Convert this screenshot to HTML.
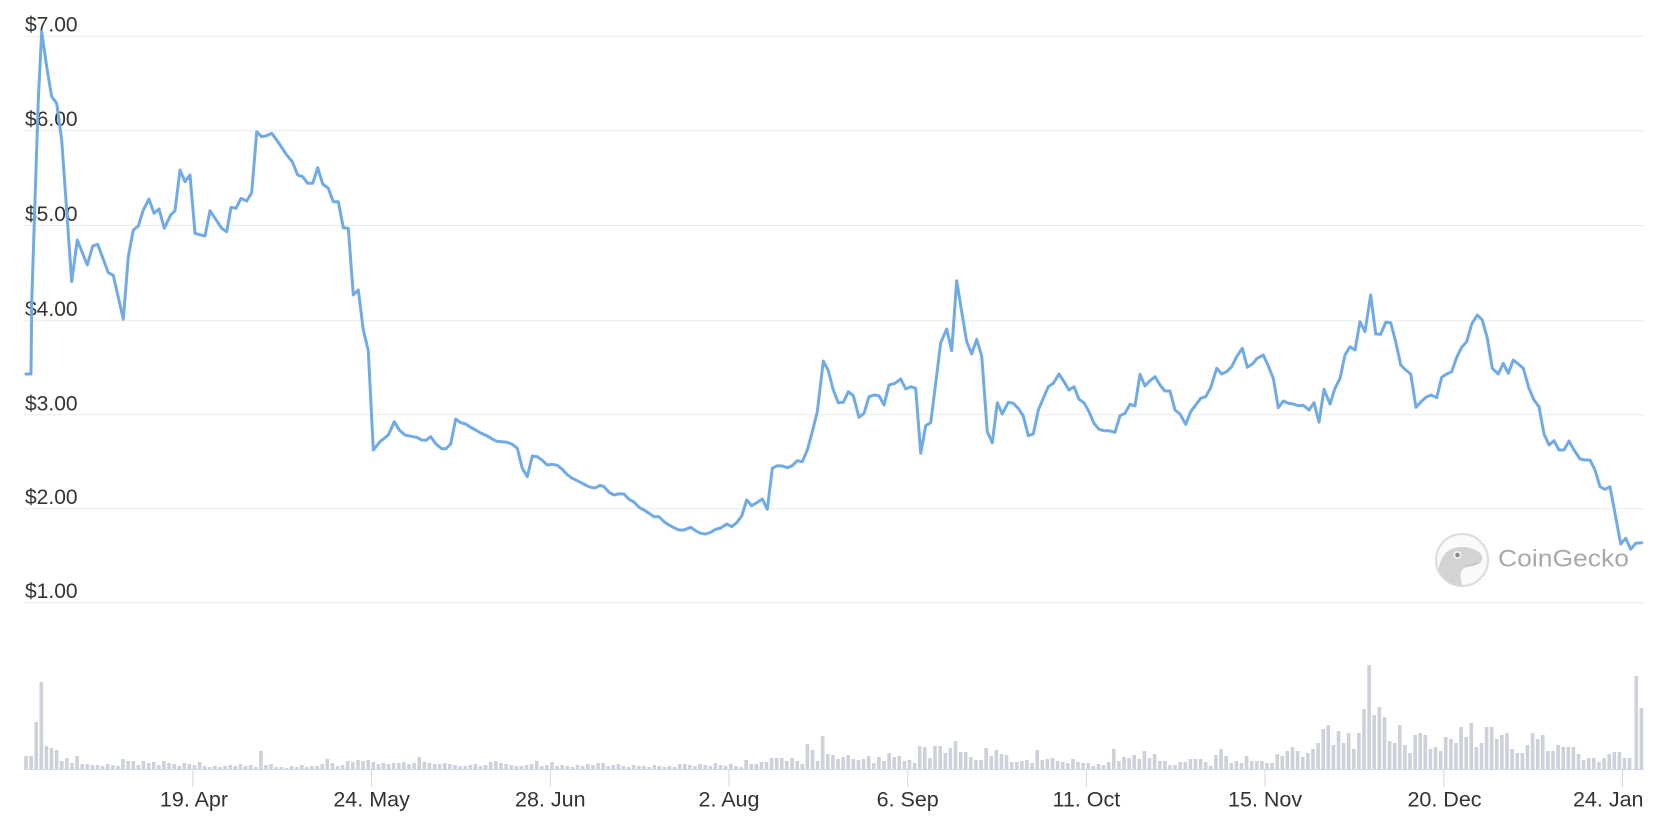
<!DOCTYPE html>
<html><head><meta charset="utf-8"><style>
html,body{margin:0;padding:0;background:#fff;}
svg{display:block;}
text{font-family:"Liberation Sans",Arial,sans-serif;}
</style></head><body>
<svg width="1671" height="834" viewBox="0 0 1671 834" xmlns="http://www.w3.org/2000/svg">
<rect width="1671" height="834" fill="#fff"/>
<g stroke="#ececec" stroke-width="1">
<line x1="24" y1="36.3" x2="1644" y2="36.3"/>
<line x1="24" y1="130.8" x2="1644" y2="130.8"/>
<line x1="24" y1="225.5" x2="1644" y2="225.5"/>
<line x1="24" y1="320.7" x2="1644" y2="320.7"/>
<line x1="24" y1="414.8" x2="1644" y2="414.8"/>
<line x1="24" y1="508.7" x2="1644" y2="508.7"/>
<line x1="24" y1="602.7" x2="1644" y2="602.7"/>
</g>
<g font-size="21" fill="#333">
<text x="25" y="31.5">$7.00</text>
<text x="25" y="126.2">$6.00</text>
<text x="25" y="221">$5.00</text>
<text x="25" y="316.2">$4.00</text>
<text x="25" y="410.3">$3.00</text>
<text x="25" y="504.2">$2.00</text>
<text x="25" y="598.2">$1.00</text>
</g>
<defs><clipPath id="cl"><circle cx="1462" cy="560" r="25.5"/></clipPath></defs>
<circle cx="1462" cy="560" r="26" fill="#fafafa" stroke="#dedede" stroke-width="2.2"/>
<g clip-path="url(#cl)">
<path d="M1436,590 C1436,575 1440,556 1448,551 C1456,545 1472,546 1480,553 C1484,557 1483,563 1476,565 C1470,567 1465,566 1462,570 C1459,575 1461,582 1464,590 Z" fill="#d3d3d3"/>
</g>
<circle cx="1457.5" cy="555" r="4" fill="#f4f4f4"/>
<circle cx="1457.5" cy="555" r="2.3" fill="#8c8c8c"/>
<path d="M1465,566 Q1472,566 1478,563" stroke="#bdbdbd" stroke-width="1.2" fill="none"/>
<text x="1498" y="566.7" font-size="24" fill="#a9a9a9" textLength="131" lengthAdjust="spacingAndGlyphs">CoinGecko</text>
<path fill="#cdd1d9" d="M24.2 769v-13h3.6v13zM29.3 769v-13h3.6v13zM34.4 769v-47h3.6v47zM39.5 769v-87h3.6v87zM44.6 769v-23h3.6v23zM49.7 769v-21h3.6v21zM54.8 769v-19h3.6v19zM59.9 769v-8h3.6v8zM65.1 769v-11h3.6v11zM70.2 769v-6h3.6v6zM75.3 769v-13h3.6v13zM80.4 769v-5h3.6v5zM85.5 769v-5h3.6v5zM90.6 769v-4h3.6v4zM95.7 769v-4h3.6v4zM100.8 769v-3h3.6v3zM105.9 769v-5h3.6v5zM111 769v-4h3.6v4zM116.1 769v-3h3.6v3zM121.2 769v-10h3.6v10zM126.3 769v-8h3.6v8zM131.4 769v-8h3.6v8zM136.6 769v-4h3.6v4zM141.7 769v-8h3.6v8zM146.8 769v-6h3.6v6zM151.9 769v-7h3.6v7zM157 769v-4h3.6v4zM162.1 769v-8h3.6v8zM167.2 769v-6h3.6v6zM172.3 769v-5h3.6v5zM177.4 769v-3h3.6v3zM182.5 769v-6h3.6v6zM187.6 769v-5h3.6v5zM192.7 769v-4h3.6v4zM197.8 769v-7h3.6v7zM202.9 769v-3h3.6v3zM208.1 769v-2h3.6v2zM213.2 769v-3h3.6v3zM218.3 769v-2h3.6v2zM223.4 769v-3h3.6v3zM228.5 769v-4h3.6v4zM233.6 769v-3h3.6v3zM238.7 769v-5h3.6v5zM243.8 769v-3h3.6v3zM248.9 769v-4h3.6v4zM254 769v-2h3.6v2zM259.1 769v-18h3.6v18zM264.2 769v-4h3.6v4zM269.3 769v-5h3.6v5zM274.4 769v-2h3.6v2zM279.6 769v-2h3.6v2zM284.7 769v-1h3.6v1zM289.8 769v-3h3.6v3zM294.9 769v-2h3.6v2zM300 769v-4h3.6v4zM305.1 769v-2h3.6v2zM310.2 769v-3h3.6v3zM315.3 769v-3h3.6v3zM320.4 769v-5h3.6v5zM325.5 769v-10h3.6v10zM330.6 769v-6h3.6v6zM335.7 769v-3h3.6v3zM340.8 769v-4h3.6v4zM345.9 769v-8h3.6v8zM351 769v-7h3.6v7zM356.2 769v-9h3.6v9zM361.3 769v-8h3.6v8zM366.4 769v-9h3.6v9zM371.5 769v-7h3.6v7zM376.6 769v-5h3.6v5zM381.7 769v-6h3.6v6zM386.8 769v-5h3.6v5zM391.9 769v-6h3.6v6zM397 769v-6h3.6v6zM402.1 769v-7h3.6v7zM407.2 769v-5h3.6v5zM412.3 769v-6h3.6v6zM417.4 769v-12h3.6v12zM422.5 769v-7h3.6v7zM427.7 769v-6h3.6v6zM432.8 769v-5h3.6v5zM437.9 769v-5h3.6v5zM443 769v-6h3.6v6zM448.1 769v-5h3.6v5zM453.2 769v-4h3.6v4zM458.3 769v-3h3.6v3zM463.4 769v-3h3.6v3zM468.5 769v-4h3.6v4zM473.6 769v-5h3.6v5zM478.7 769v-3h3.6v3zM483.8 769v-4h3.6v4zM488.9 769v-7h3.6v7zM494 769v-8h3.6v8zM499.2 769v-6h3.6v6zM504.3 769v-5h3.6v5zM509.4 769v-4h3.6v4zM514.5 769v-3h3.6v3zM519.6 769v-3h3.6v3zM524.7 769v-4h3.6v4zM529.8 769v-5h3.6v5zM534.9 769v-8h3.6v8zM540 769v-3h3.6v3zM545.1 769v-4h3.6v4zM550.2 769v-7h3.6v7zM555.3 769v-3h3.6v3zM560.4 769v-4h3.6v4zM565.5 769v-3h3.6v3zM570.7 769v-2h3.6v2zM575.8 769v-4h3.6v4zM580.9 769v-3h3.6v3zM586 769v-5h3.6v5zM591.1 769v-4h3.6v4zM596.2 769v-6h3.6v6zM601.3 769v-6h3.6v6zM606.4 769v-3h3.6v3zM611.5 769v-4h3.6v4zM616.6 769v-5h3.6v5zM621.7 769v-3h3.6v3zM626.8 769v-2h3.6v2zM631.9 769v-4h3.6v4zM637 769v-3h3.6v3zM642.1 769v-3h3.6v3zM647.3 769v-2h3.6v2zM652.4 769v-4h3.6v4zM657.5 769v-3h3.6v3zM662.6 769v-2h3.6v2zM667.7 769v-3h3.6v3zM672.8 769v-2h3.6v2zM677.9 769v-5h3.6v5zM683 769v-5h3.6v5zM688.1 769v-4h3.6v4zM693.2 769v-3h3.6v3zM698.3 769v-5h3.6v5zM703.4 769v-4h3.6v4zM708.5 769v-3h3.6v3zM713.6 769v-6h3.6v6zM718.8 769v-4h3.6v4zM723.9 769v-3h3.6v3zM729 769v-5h3.6v5zM734.1 769v-3h3.6v3zM739.2 769v-2h3.6v2zM744.3 769v-9h3.6v9zM749.4 769v-5h3.6v5zM754.5 769v-5h3.6v5zM759.6 769v-7h3.6v7zM764.7 769v-7h3.6v7zM769.8 769v-11h3.6v11zM774.9 769v-11h3.6v11zM780 769v-11h3.6v11zM785.1 769v-8h3.6v8zM790.3 769v-11h3.6v11zM795.4 769v-8h3.6v8zM800.5 769v-5h3.6v5zM805.6 769v-25h3.6v25zM810.7 769v-19h3.6v19zM815.8 769v-8h3.6v8zM820.9 769v-33h3.6v33zM826 769v-15h3.6v15zM831.1 769v-14h3.6v14zM836.2 769v-10h3.6v10zM841.3 769v-12h3.6v12zM846.4 769v-14h3.6v14zM851.5 769v-10h3.6v10zM856.6 769v-9h3.6v9zM861.7 769v-10h3.6v10zM866.9 769v-13h3.6v13zM872 769v-6h3.6v6zM877.1 769v-12h3.6v12zM882.2 769v-8h3.6v8zM887.3 769v-16h3.6v16zM892.4 769v-12h3.6v12zM897.5 769v-13h3.6v13zM902.6 769v-8h3.6v8zM907.7 769v-9h3.6v9zM912.8 769v-6h3.6v6zM917.9 769v-23h3.6v23zM923 769v-22h3.6v22zM928.1 769v-11h3.6v11zM933.2 769v-23h3.6v23zM938.4 769v-23h3.6v23zM943.5 769v-16h3.6v16zM948.6 769v-21h3.6v21zM953.7 769v-28h3.6v28zM958.8 769v-17h3.6v17zM963.9 769v-17h3.6v17zM969 769v-12h3.6v12zM974.1 769v-9h3.6v9zM979.2 769v-9h3.6v9zM984.3 769v-21h3.6v21zM989.4 769v-13h3.6v13zM994.5 769v-19h3.6v19zM999.6 769v-15h3.6v15zM1004.7 769v-14h3.6v14zM1009.9 769v-7h3.6v7zM1015 769v-7h3.6v7zM1020.1 769v-8h3.6v8zM1025.2 769v-9h3.6v9zM1030.3 769v-6h3.6v6zM1035.4 769v-19h3.6v19zM1040.5 769v-9h3.6v9zM1045.6 769v-10h3.6v10zM1050.7 769v-11h3.6v11zM1055.8 769v-8h3.6v8zM1060.9 769v-7h3.6v7zM1066 769v-6h3.6v6zM1071.1 769v-10h3.6v10zM1076.2 769v-7h3.6v7zM1081.3 769v-6h3.6v6zM1086.5 769v-6h3.6v6zM1091.6 769v-3h3.6v3zM1096.7 769v-5h3.6v5zM1101.8 769v-4h3.6v4zM1106.9 769v-7h3.6v7zM1112 769v-20h3.6v20zM1117.1 769v-8h3.6v8zM1122.2 769v-12h3.6v12zM1127.3 769v-11h3.6v11zM1132.4 769v-14h3.6v14zM1137.5 769v-10h3.6v10zM1142.6 769v-18h3.6v18zM1147.7 769v-11h3.6v11zM1152.8 769v-15h3.6v15zM1158 769v-8h3.6v8zM1163.1 769v-8h3.6v8zM1168.2 769v-4h3.6v4zM1173.3 769v-4h3.6v4zM1178.4 769v-7h3.6v7zM1183.5 769v-7h3.6v7zM1188.6 769v-10h3.6v10zM1193.7 769v-10h3.6v10zM1198.8 769v-10h3.6v10zM1203.9 769v-7h3.6v7zM1209 769v-3h3.6v3zM1214.1 769v-14h3.6v14zM1219.2 769v-20h3.6v20zM1224.3 769v-13h3.6v13zM1229.5 769v-6h3.6v6zM1234.6 769v-8h3.6v8zM1239.7 769v-6h3.6v6zM1244.8 769v-13h3.6v13zM1249.9 769v-8h3.6v8zM1255 769v-8h3.6v8zM1260.1 769v-8h3.6v8zM1265.2 769v-6h3.6v6zM1270.3 769v-6h3.6v6zM1275.4 769v-15h3.6v15zM1280.5 769v-13h3.6v13zM1285.6 769v-18h3.6v18zM1290.7 769v-22h3.6v22zM1295.8 769v-18h3.6v18zM1301 769v-12h3.6v12zM1306.1 769v-16h3.6v16zM1311.2 769v-20h3.6v20zM1316.3 769v-26h3.6v26zM1321.4 769v-40h3.6v40zM1326.5 769v-44h3.6v44zM1331.6 769v-24h3.6v24zM1336.7 769v-38h3.6v38zM1341.8 769v-26h3.6v26zM1346.9 769v-36h3.6v36zM1352 769v-20h3.6v20zM1357.1 769v-36h3.6v36zM1362.2 769v-60h3.6v60zM1367.3 769v-104h3.6v104zM1372.4 769v-54h3.6v54zM1377.6 769v-62h3.6v62zM1382.7 769v-52h3.6v52zM1387.8 769v-28h3.6v28zM1392.9 769v-26h3.6v26zM1398 769v-44h3.6v44zM1403.1 769v-24h3.6v24zM1408.2 769v-16h3.6v16zM1413.3 769v-34h3.6v34zM1418.4 769v-36h3.6v36zM1423.5 769v-34h3.6v34zM1428.6 769v-20h3.6v20zM1433.7 769v-22h3.6v22zM1438.8 769v-18h3.6v18zM1443.9 769v-32h3.6v32zM1449.1 769v-30h3.6v30zM1454.2 769v-26h3.6v26zM1459.3 769v-42h3.6v42zM1464.4 769v-32h3.6v32zM1469.5 769v-46h3.6v46zM1474.6 769v-22h3.6v22zM1479.7 769v-26h3.6v26zM1484.8 769v-42h3.6v42zM1489.9 769v-42h3.6v42zM1495 769v-30h3.6v30zM1500.1 769v-34h3.6v34zM1505.2 769v-36h3.6v36zM1510.3 769v-20h3.6v20zM1515.4 769v-16h3.6v16zM1520.6 769v-16h3.6v16zM1525.7 769v-24h3.6v24zM1530.8 769v-36h3.6v36zM1535.9 769v-30h3.6v30zM1541 769v-34h3.6v34zM1546.1 769v-18h3.6v18zM1551.2 769v-18h3.6v18zM1556.3 769v-24h3.6v24zM1561.4 769v-22h3.6v22zM1566.5 769v-22h3.6v22zM1571.6 769v-22h3.6v22zM1576.7 769v-15h3.6v15zM1581.8 769v-9h3.6v9zM1586.9 769v-11h3.6v11zM1592 769v-11h3.6v11zM1597.2 769v-7h3.6v7zM1602.3 769v-11h3.6v11zM1607.4 769v-15h3.6v15zM1612.5 769v-17h3.6v17zM1617.6 769v-17h3.6v17zM1622.7 769v-11h3.6v11zM1627.8 769v-11h3.6v11zM1634.5 769v-93h3.6v93zM1639.6 769v-61h3.6v61z"/>
<line x1="24" y1="769.5" x2="1644" y2="769.5" stroke="#ccd6eb" stroke-width="1"/>
<g stroke="#ccd6eb" stroke-width="1">
<line x1="192.9" y1="769" x2="192.9" y2="787"/>
<line x1="371.6" y1="769" x2="371.6" y2="787"/>
<line x1="550.3" y1="769" x2="550.3" y2="787"/>
<line x1="729" y1="769" x2="729" y2="787"/>
<line x1="907.7" y1="769" x2="907.7" y2="787"/>
<line x1="1086.4" y1="769" x2="1086.4" y2="787"/>
<line x1="1265.1" y1="769" x2="1265.1" y2="787"/>
<line x1="1443.8" y1="769" x2="1443.8" y2="787"/>
<line x1="1622.5" y1="769" x2="1622.5" y2="787"/>
</g>
<g font-size="21.5" fill="#333" text-anchor="middle">
<text x="194" y="806.5">19. Apr</text>
<text x="371.6" y="806.5">24. May</text>
<text x="550.3" y="806.5">28. Jun</text>
<text x="729" y="806.5">2. Aug</text>
<text x="907.7" y="806.5">6. Sep</text>
<text x="1086.4" y="806.5">11. Oct</text>
<text x="1265.1" y="806.5">15. Nov</text>
<text x="1444.5" y="806.5">20. Dec</text>
<text x="1643.5" y="806.5" text-anchor="end">24. Jan</text>
</g>
<polyline fill="none" stroke="#71abe6" stroke-width="3" stroke-linejoin="round" stroke-linecap="round" points="26,374 31,374 31.8,300 35,200 38.3,100 41.7,31.7 46.7,66.7 51.7,96.7 56.7,103.3 61.7,140 71.7,281.7 77.3,240 87.3,265 92.7,246 97.7,244.3 108.3,272.7 113.3,275.3 123.3,319.3 128.3,256.7 133.3,230 138.3,226 143.3,210 149,199 154,213.3 159,209 164.3,228.3 170.7,215 175,210.7 180,170 185,181.7 190,175 195,233.3 205,236 210,210.7 221.7,228.3 226.7,231.7 231,207.3 236,208.3 241,198.3 246.7,201 251.7,192.7 256.7,131.7 261.7,136.7 266.7,135.7 271.7,133.3 276.7,140 281.7,147.5 286.7,155 292.3,161.7 297.7,175 302.7,176.7 307.7,183.3 312.7,183.3 317.7,167.7 322.7,184 328.3,188.3 333.3,201.7 338.3,201.7 343.3,227.7 348.3,228.3 353.3,295 358.3,290 363.3,330 368.3,350.7 373.3,450 380,441.7 388.3,435 394.3,421.7 399.3,430 405,435 413.3,436.7 416.7,437.3 421.7,440 426,440.3 430.7,436.7 436,444 441.7,448.7 446,448.7 450.7,444 455.7,419 460.7,422.7 465.7,424 470.7,427.3 475.7,430 480.7,433 486.7,435.7 491.7,438.7 496.7,441.3 501.7,441.7 507.3,442.3 512.3,444.3 517.3,448.3 522.3,468.3 527.3,476.7 532.3,456 537.3,456.7 542.3,460.3 547.3,465 552.3,464.3 557.3,465.3 562.3,469.3 567.3,474.7 572.3,478.3 577.3,480.7 582.3,483.3 587.3,486 592.3,487.7 595.7,487.7 600,485.3 604,486.7 609,492.3 614,495 619,493.7 624,494 629,499.3 634,502 639,507.3 644,510 649,513.3 654,516.7 659,516.7 664,521.7 669,525 674,527.7 679,530 684,530 690.7,527.3 695.7,530.7 700.7,533.3 705.7,534 710.7,532.3 715.7,529.3 720.7,528 726.7,524 731.7,526.7 736.7,522.7 741.7,516 746.7,500 751.7,505.7 756.7,502.7 762.3,499 767.3,509.3 772.3,468.3 777.3,465.7 782.3,466 787.3,467.7 792.3,465.7 797.3,460.7 802.3,461.7 807.3,450 812.3,431.7 817.3,411.7 823.3,361 828.3,370.7 833.3,390 838.3,402.7 843.3,402.3 848.3,391.7 853.3,395.7 859,417.3 864,413.3 869,396.7 874,395 879,395.7 884,405 889,385 895,383.3 900.7,379 905.7,389 910.7,386.7 915.7,388.3 920.7,453.3 925.7,425.7 930.7,422.7 935.7,383.3 940.7,342.7 946.7,329 951.7,350.7 956.7,280.7 961.7,311.7 966.7,341.7 971.7,354 976.7,339.3 981.7,356 987.3,431.7 992.3,442.7 997.3,402.7 1002.3,414 1008.3,402.3 1013.3,403.3 1018.3,408.3 1023.3,416 1028.3,435.7 1033.3,434 1038.3,410 1043.3,398.3 1048.3,386.7 1053.3,383.3 1059,374 1064,381.7 1069,390 1074,386.7 1079,399.3 1084,402.7 1089,411.7 1094,423.3 1099,429.3 1104,430.7 1109,430.7 1115,432.3 1120,415.7 1125,413.3 1130,404.3 1135,406 1140,374.3 1145,386 1150,380.7 1155,376.7 1160,385 1165,391 1170,391 1175,410 1180,414 1185.7,424.3 1190.7,411.7 1195.7,405 1200.7,398.3 1205.7,396.7 1210.7,387.7 1216.7,368.3 1221.7,374 1226.7,371.7 1231.7,366.7 1236.7,356.7 1242.3,348.3 1247.3,367.3 1252.3,364 1257.3,358.3 1263.3,355 1268.3,366 1273.3,378.3 1278.3,407.7 1283.3,401 1288.3,403.3 1293.3,404 1298.3,405.7 1303.3,405.3 1309,410 1314,402.7 1319,422.3 1324,389.3 1330,404 1335,388.3 1340,378.5 1345,355 1350,346.7 1355,350 1360,321.7 1365,331.7 1370.7,295 1375.7,334 1380.7,334.3 1385.7,322.3 1390.7,322.7 1395.7,341.7 1400.7,365 1405.7,370 1410.7,374 1416,407.3 1421,401.7 1426,397.3 1431,395 1436.7,397.7 1441.7,377.3 1446.7,374 1451.7,371.7 1456.7,357.3 1461.7,347.3 1466.7,341.7 1471.7,324 1477.3,315 1482.3,320 1487.3,338.3 1492.3,368.3 1498.3,374 1503.3,363.3 1508.3,373.3 1513.3,360 1518.3,364 1523.3,368.3 1529,388.3 1534,400 1539,406.7 1544,434 1549,445 1554,440.7 1559,450 1564,450 1569,441 1574,450 1580,459 1585,460 1590,460 1595,470 1600,486.7 1605,489.3 1610,486.7 1615,513.3 1620.7,544 1625.7,538.3 1630.7,549.3 1635.7,543.3 1641.7,542.7"/>
</svg>
</body></html>
